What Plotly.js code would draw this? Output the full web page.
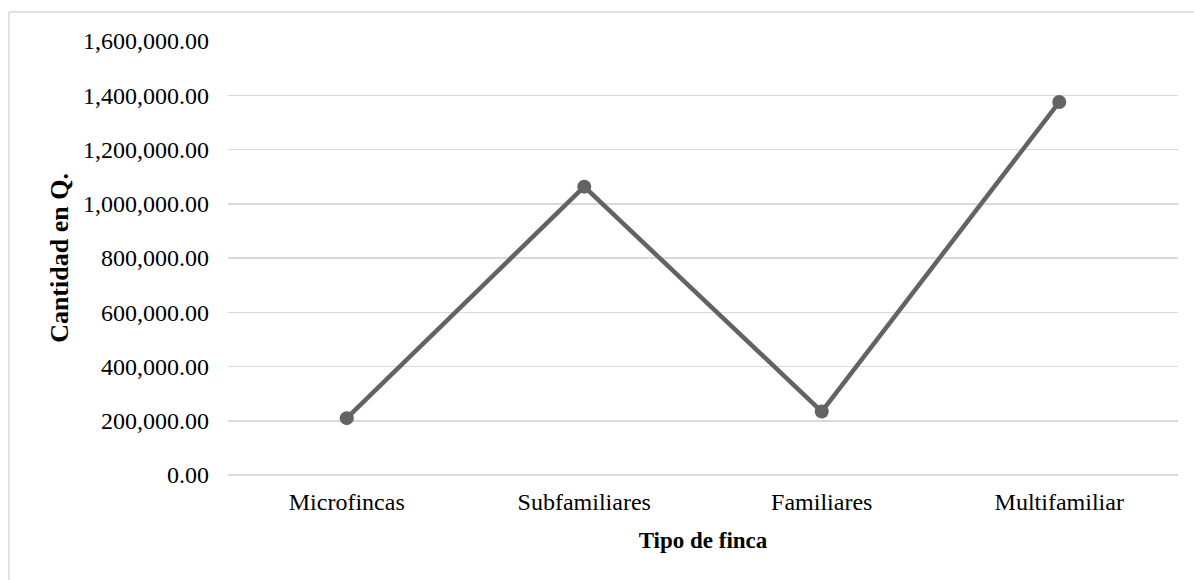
<!DOCTYPE html>
<html>
<head>
<meta charset="utf-8">
<script src="https://cdn.plot.ly/plotly-3.0.1.min.js"></script>
<style>
  html, body { margin: 0; padding: 0; background: #ffffff; }
  #chart { width: 1194px; height: 580px; }
</style>
</head>
<body>
<div id="chart"></div>
<script>
const categories = ["Microfincas", "Subfamiliares", "Familiares", "Multifamiliar"];
const values = [209500, 1063000, 234000, 1375000];
const yTicks = [0, 200000, 400000, 600000, 800000, 1000000, 1200000, 1400000, 1600000];
const xTitle = "Tipo de finca";
const yTitle = "Cantidad en Q.";

const W = 1194, H = 580;
const margin = { l: 228, r: 16, t: 41, b: 105 };
const pw = W - margin.l - margin.r;
const ph = H - margin.t - margin.b;
const font = "'Liberation Serif', 'Times New Roman', Times, serif";
const lineColor = "#636363";
const gridColor = "#d9d9d9";

const trace = {
  type: "scatter",
  mode: "lines+markers",
  x: categories,
  y: values,
  line: { color: lineColor, width: 4.5 },
  marker: { color: lineColor, size: 14 },
  hoverinfo: "x+y"
};

// outer chart-area border (top & left visible)
const bx0 = (9 - margin.l) / pw;
const byTop = 1 + (margin.t - 12) / ph;

const layout = {
  width: W,
  height: H,
  margin: margin,
  paper_bgcolor: "#ffffff",
  plot_bgcolor: "#ffffff",
  showlegend: false,
  font: { family: font, color: "#000000", size: 21 },
  xaxis: {
    type: "category",
    range: [-0.5, categories.length - 0.5],
    showgrid: false,
    zeroline: false,
    showline: false,
    ticks: "",
    ticklabelstandoff: 10,
    tickfont: { family: font, size: 24, color: "#000000" },
    title: { text: xTitle, font: { family: font, size: 23, color: "#000000", weight: "bold" }, standoff: 17 }
  },
  yaxis: {
    range: [0, 1600000],
    tickvals: yTicks,
    tickformat: ",.2f",
    showgrid: true,
    gridcolor: gridColor,
    gridwidth: 1.5,
    zeroline: true,
    zerolinecolor: gridColor,
    zerolinewidth: 1.5,
    showline: false,
    ticks: "",
    ticklabelstandoff: 18,
    tickfont: { family: font, size: 24, color: "#000000" },
    title: { text: yTitle, font: { family: font, size: 26, color: "#000000", weight: "bold" }, standoff: 6 }
  },
  shapes: [
    { type: "line", xref: "paper", yref: "paper", x0: bx0, x1: 1.2, y0: byTop, y1: byTop,
      line: { color: gridColor, width: 1.5 }, layer: "below" },
    { type: "line", xref: "paper", yref: "paper", x0: bx0, x1: bx0, y0: byTop, y1: -0.5,
      line: { color: gridColor, width: 1.5 }, layer: "below" }
  ]
};

Plotly.newPlot("chart", [trace], layout, { displayModeBar: false, staticPlot: true });
</script>
</body>
</html>
